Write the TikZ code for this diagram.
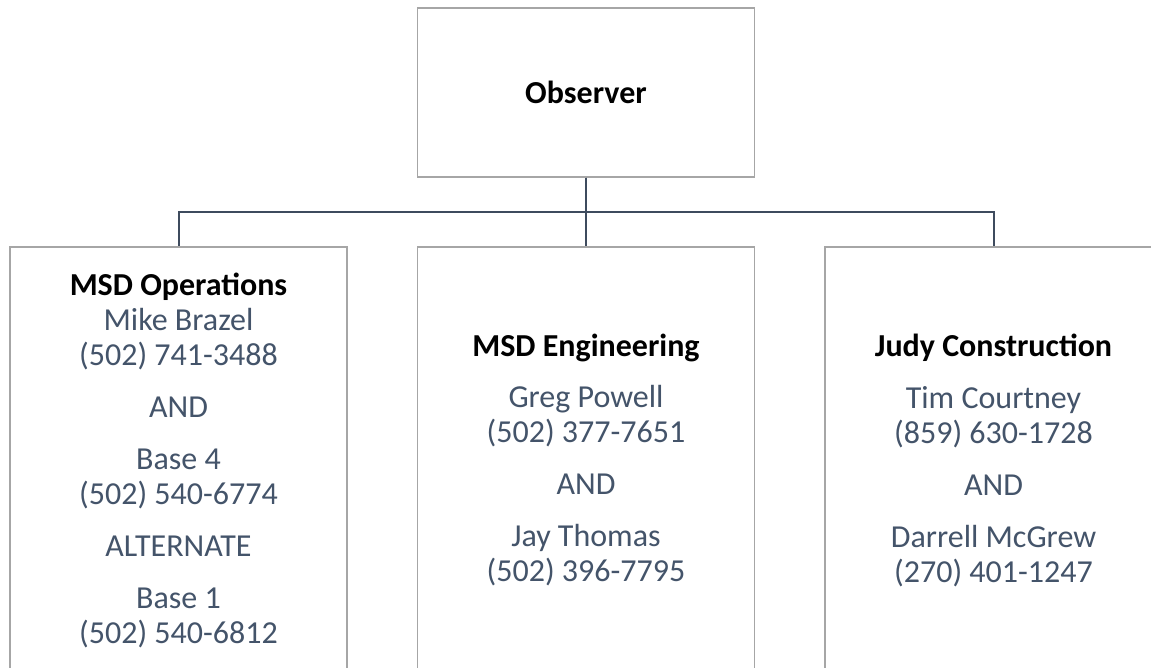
\documentclass[tikz,border=0pt]{standalone}
\usepackage{fontspec}
\setmainfont{Carlito}
\definecolor{boxgray}{HTML}{A6A6A6}
\definecolor{linec}{HTML}{3E4B5E}
\definecolor{txt}{HTML}{44546A}
\begin{document}
\begin{tikzpicture}[x=1pt,y=-1pt,
  box/.style={draw=boxgray, line width=1.5pt, fill=white, minimum width=337pt,
    inner sep=0pt, align=center, text=txt, font=\fontsize{32}{35}\selectfont},
  head/.style={},
  conn/.style={draw=linec, line width=2pt}]
\useasboundingbox (0,0) rectangle (1151,668);
\begin{scope}
\clip (0,0) rectangle (1151,668);
\node[box, minimum height=169pt] (obs) at (586,92.5) {\textbf{\color{black}Observer}};
\node[box, minimum height=426pt] (ops) at (178.5,460) {%
  {\bfseries\color{black}MSD Operations}\\
  Mike Brazel\\
  (502) 741-3488\\[17pt]
  AND\\[17pt]
  Base 4\\
  (502) 540-6774\\[17pt]
  ALTERNATE\\[17pt]
  Base 1\\
  (502) 540-6812};
\node[box, minimum height=426pt] (eng) at (586,460) {%
  {\bfseries\color{black}MSD Engineering}\\[16pt]
  Greg Powell\\
  (502) 377-7651\\[17pt]
  AND\\[17pt]
  Jay Thomas\\
  (502) 396-7795};
\node[box, minimum height=426pt] (judy) at (993.5,460) {%
  {\bfseries\color{black}Judy Construction}\\[17pt]
  Tim Courtney\\
  (859) 630-1728\\[17pt]
  AND\\[17pt]
  Darrell McGrew\\
  (270) 401-1247};
\draw[conn] (obs.south) -- ++(0,34) -| (ops.north);
\draw[conn] (obs.south) -- ++(0,34) -| (judy.north);
\draw[conn] (obs.south) -- (eng.north);
\end{scope}
\end{tikzpicture}
\end{document}
